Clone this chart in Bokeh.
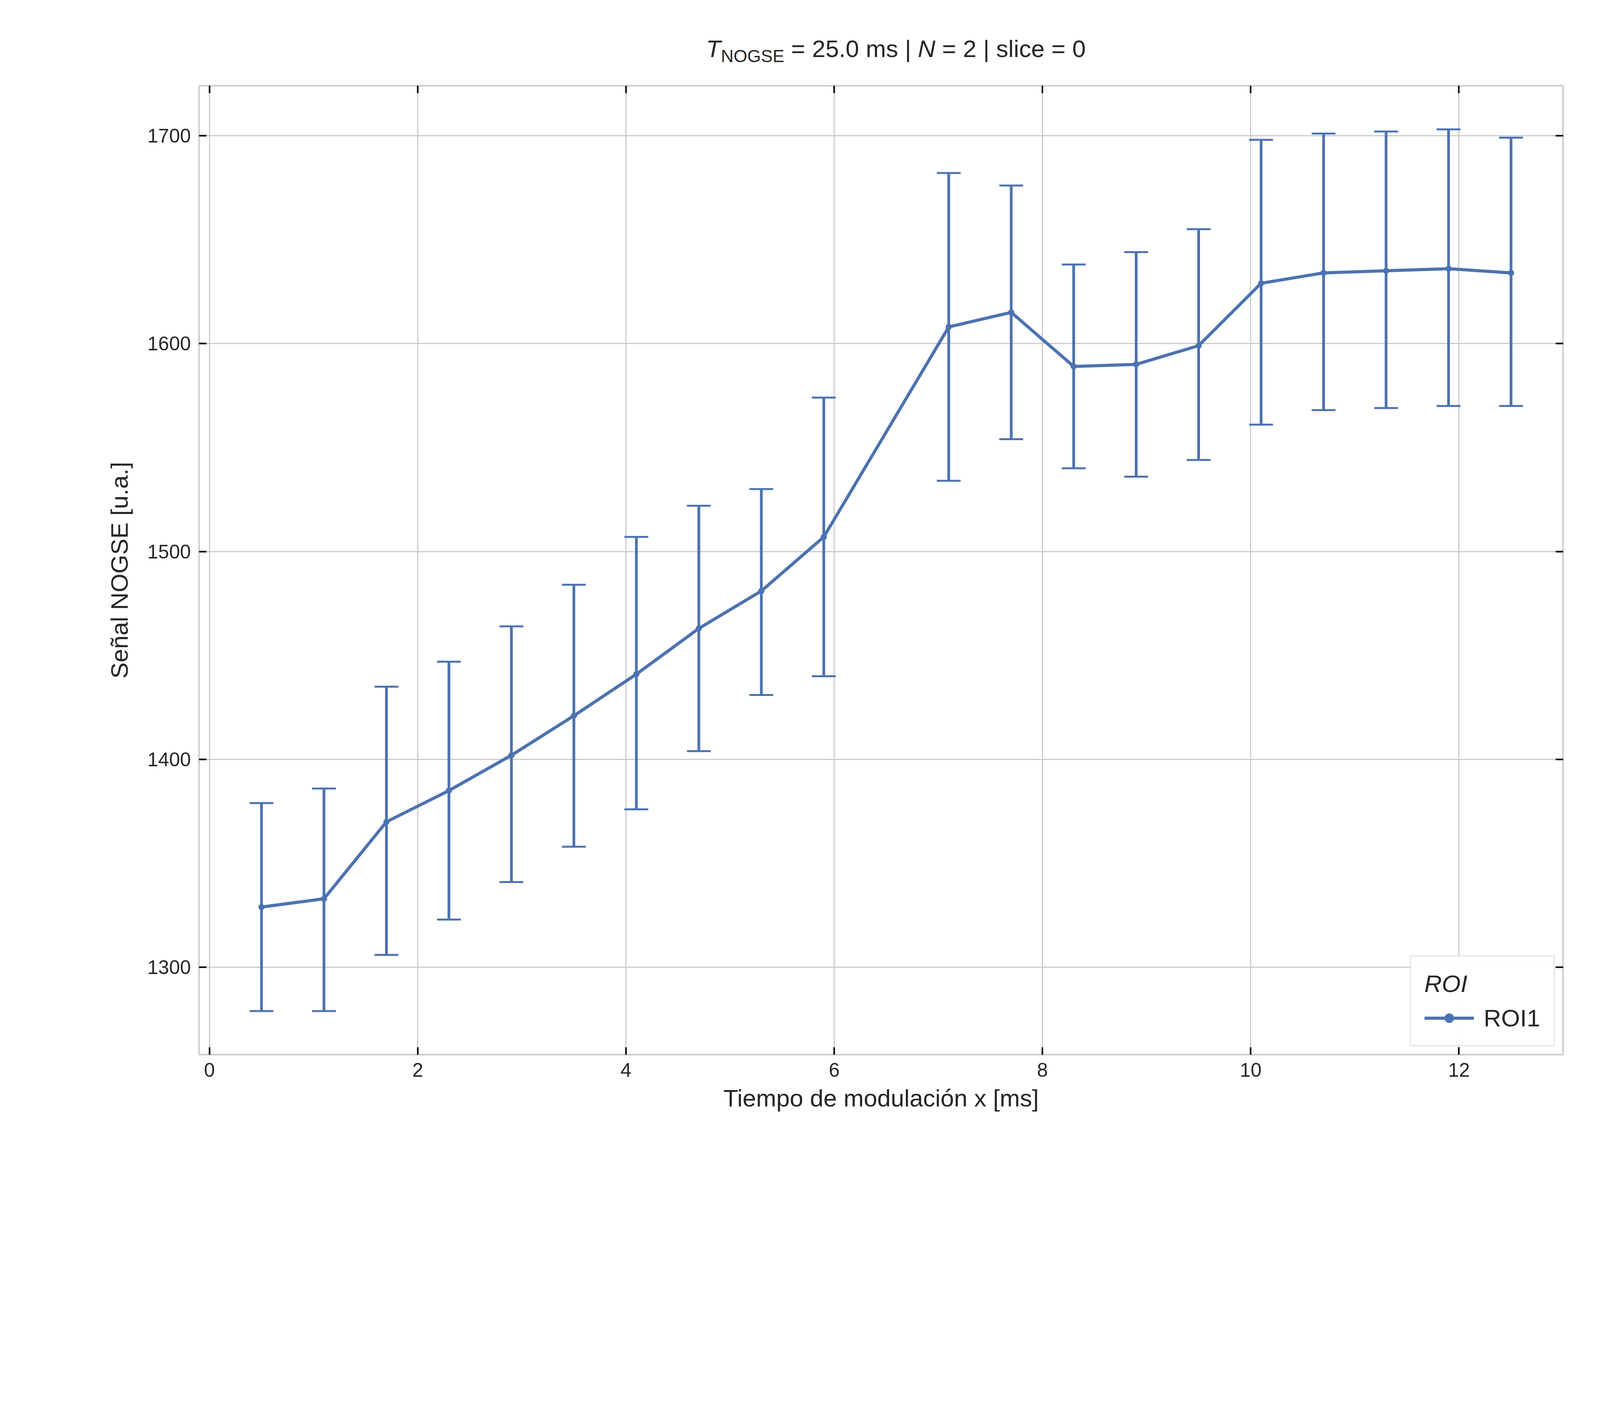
from bokeh.plotting import figure
from bokeh.layouts import column
from bokeh.models import Whisker, TeeHead, ColumnDataSource, LinearAxis, Legend, LegendItem, Range1d, Div
from bokeh.embed import file_html
from bokeh.resources import INLINE

x = [0.5, 1.1, 1.7, 2.3, 2.9, 3.5, 4.1, 4.7, 5.3, 5.9,
     7.1, 7.7, 8.3, 8.9, 9.5, 10.1, 10.7, 11.3, 11.9, 12.5]
signal = [1329, 1333, 1370, 1385, 1402, 1421, 1441, 1463, 1481, 1507,
          1608, 1615, 1589, 1590, 1599, 1629, 1634, 1635, 1636, 1634]
lower = [1279, 1279, 1306, 1323, 1341, 1358, 1376, 1404, 1431, 1440,
         1534, 1554, 1540, 1536, 1544, 1561, 1568, 1569, 1570, 1570]
upper = [1379, 1386, 1435, 1447, 1464, 1484, 1507, 1522, 1530, 1574,
         1682, 1676, 1638, 1644, 1655, 1698, 1701, 1702, 1703, 1699]
xticks = [0, 2, 4, 6, 8, 10, 12]
yticks = [1300, 1400, 1500, 1600, 1700]

BLUE = "#4c72b0"
TXT = "#262626"
FONT = "Liberation Sans"
G = 0.847  # geometry scale

def g(v):
    return int(round(v * G))

src = ColumnDataSource(dict(x=x, y=signal, lo=lower, hi=upper))

title = Div(text='<span style="font-family:\'Liberation Sans\';font-size:62px;color:#262626;white-space:nowrap">'
                 '<i>T</i><sub style="font-size:45px">NOGSE</sub> = 25.0 ms | <i>N</i> = 2 | slice = 0</span>',
            width=g(4784), height=g(200),
            styles={"text-align": "center", "padding-left": f"{g(620)}px", "padding-top": f"{g(90)}px"})

p = figure(width=g(4784), height=g(3384), output_backend="svg", toolbar_location=None,
           x_range=Range1d(-0.1, 13.0), y_range=Range1d(1258, 1724),
           min_border_left=g(601), min_border_right=g(60), min_border_top=g(47), min_border_bottom=g(407))
p.title.visible = False
p.outline_line_color = "#cccccc"
p.outline_line_width = 4

for ax in p.xaxis + p.yaxis:
    ax.axis_line_color = None
    ax.major_tick_in = g(22)
    ax.major_tick_out = 0
    ax.major_tick_line_width = 4
    ax.major_tick_line_color = "black"
    ax.minor_tick_line_color = None
    ax.major_label_text_font = FONT
    ax.major_label_text_font_size = "50px"
    ax.major_label_text_color = TXT
    ax.major_label_standoff = g(25)
    ax.axis_label_text_font = FONT
    ax.axis_label_text_font_size = "62px"
    ax.axis_label_text_color = TXT
    ax.axis_label_text_font_style = "normal"
p.xaxis.ticker = xticks
p.yaxis.ticker = yticks
p.xaxis.axis_label = "Tiempo de modulación x [ms]"
p.yaxis.axis_label = "Señal NOGSE [u.a.]"
p.xaxis.axis_label_standoff = g(20)
p.yaxis.axis_label_standoff = g(40)

for side, tk in [("above", xticks), ("right", yticks)]:
    ax = LinearAxis(ticker=tk, major_label_overrides={t: "" for t in tk})
    ax.axis_line_color = None
    ax.major_tick_in = g(22)
    ax.major_tick_out = 0
    ax.major_tick_line_width = 4
    ax.major_tick_line_color = "black"
    ax.minor_tick_line_color = None
    ax.major_label_standoff = 0
    p.add_layout(ax, side)

p.grid.grid_line_color = "#cccccc"
p.grid.grid_line_width = 3
p.xgrid.ticker = xticks
p.ygrid.ticker = yticks

w = Whisker(source=src, base="x", lower="lo", upper="hi", line_color=BLUE, line_width=g(8),
            lower_head=TeeHead(size=g(72), line_color=BLUE, line_width=g(6)),
            upper_head=TeeHead(size=g(72), line_color=BLUE, line_width=g(6)))
p.add_layout(w)
ln = p.line("x", "y", source=src, line_color=BLUE, line_width=g(9))
sc = p.scatter("x", "y", source=src, size=g(18), color=BLUE)

legend = Legend(items=[LegendItem(label="ROI1", renderers=[ln, sc])], location="bottom_right",
                title="ROI", title_text_font=FONT, title_text_font_size="62px", title_text_color=TXT,
                label_text_font=FONT, label_text_font_size="62px", label_text_color=TXT,
                border_line_color="#cccccc", border_line_width=3, glyph_width=g(150), glyph_height=g(70),
                padding=g(40), margin=g(25), spacing=g(10), label_standoff=g(30), title_standoff=g(20))
p.add_layout(legend)

layout = column(title, p)
open("out.html", "w").write(file_html(layout, INLINE))
